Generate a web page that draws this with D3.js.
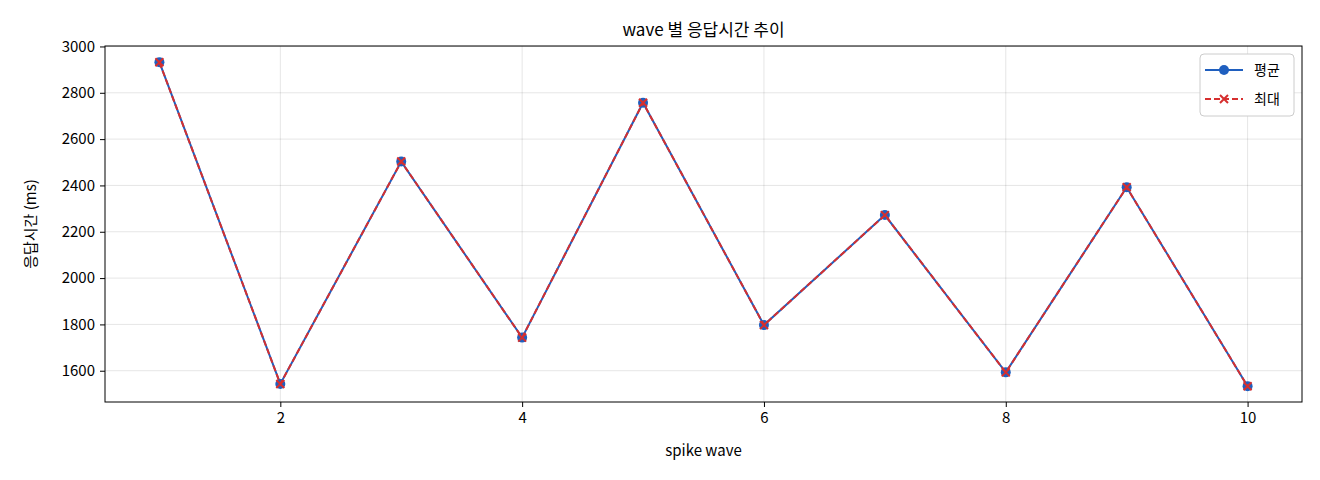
<!DOCTYPE html><html><head><meta charset="utf-8">
<script src="https://cdn.jsdelivr.net/npm/d3@7"></script>
<style>body{margin:0;background:#fff}text{font-family:"Noto Sans CJK KR","DejaVu Sans",sans-serif}</style></head><body>
<svg id="c" width="1320" height="480"></svg>
<script>
const waves=[1,2,3,4,5,6,7,8,9,10];
const avgMs=[2932,1543,2503,1743,2757,1797,2272,1593,2392,1533];
const maxMs=[2932,1543,2503,1743,2757,1797,2272,1593,2392,1533];
const xTicks=[2,4,6,8,10];
const yTicks=[1600,1800,2000,2200,2400,2600,2800,3000];
const svg=d3.select("#c");
const L=105,R=1302,T=46,B=402;
const x=d3.scaleLinear().domain([0.55,10.45]).range([L,R]);
const y=d3.scaleLinear().domain([1465,3002]).range([B,T]);
const g=svg.append("g");
g.selectAll(".gx").data(xTicks).join("line").attr("x1",d=>x(d)).attr("x2",d=>x(d)).attr("y1",T).attr("y2",B).attr("stroke","#000").attr("stroke-opacity",0.1);
g.selectAll(".gy").data(yTicks).join("line").attr("y1",d=>y(d)).attr("y2",d=>y(d)).attr("x1",L).attr("x2",R).attr("stroke","#000").attr("stroke-opacity",0.1);
const ax=svg.append("g").attr("transform",`translate(0,${B})`).call(d3.axisBottom(x).tickValues(xTicks).tickFormat(d3.format("d")).tickSize(5).tickPadding(5));
const ay=svg.append("g").attr("transform",`translate(${L},0)`).call(d3.axisLeft(y).tickValues(yTicks).tickFormat(d3.format("d")).tickSize(5).tickPadding(5));
[ax,ay].forEach(a=>{a.select(".domain").remove();a.selectAll("text").attr("font-size",15).attr("fill","#000");});
svg.append("rect").attr("x",L).attr("y",T).attr("width",R-L).attr("height",B-T).attr("fill","none").attr("stroke","#000");
const line=d3.line().x((d,i)=>x(waves[i])).y(d=>y(d));
svg.append("path").datum(avgMs).attr("d",line).attr("fill","none").attr("stroke","#1f5fbf").attr("stroke-width",2);
svg.selectAll(".pa").data(avgMs).join("circle").attr("cx",(d,i)=>x(waves[i])).attr("cy",d=>y(d)).attr("r",5).attr("fill","#1f5fbf");
svg.append("path").datum(maxMs).attr("d",line).attr("fill","none").attr("stroke","#d62f2f").attr("stroke-width",2).attr("stroke-dasharray","6,3");
const cross=(sel,cx,cy,s)=>{sel.append("path").attr("d",`M${cx-s},${cy-s}L${cx+s},${cy+s}M${cx-s},${cy+s}L${cx+s},${cy-s}`).attr("stroke","#d62f2f").attr("stroke-width",2);};
maxMs.forEach((d,i)=>cross(svg,x(waves[i]),y(d),4));
svg.append("text").attr("x",(L+R)/2).attr("y",36).attr("text-anchor","middle").attr("font-size",17).text("wave 별 응답시간 추이");
svg.append("text").attr("x",(L+R)/2).attr("y",456).attr("text-anchor","middle").attr("font-size",15).text("spike wave");
svg.append("text").attr("transform",`translate(36,${(T+B)/2}) rotate(-90)`).attr("text-anchor","middle").attr("font-size",15).text("응답시간 (ms)");
const lg=svg.append("g");
lg.append("rect").attr("x",1200).attr("y",54).attr("width",94).attr("height",62).attr("rx",4).attr("fill","#fff").attr("stroke","#ccc");
lg.append("line").attr("x1",1205).attr("x2",1243).attr("y1",70).attr("y2",70).attr("stroke","#1f5fbf").attr("stroke-width",2);
lg.append("circle").attr("cx",1224).attr("cy",70).attr("r",5).attr("fill","#1f5fbf");
lg.append("line").attr("x1",1205).attr("x2",1243).attr("y1",99).attr("y2",99).attr("stroke","#d62f2f").attr("stroke-width",2).attr("stroke-dasharray","6,3");
cross(lg,1224,99,4);
lg.append("text").attr("x",1254).attr("y",75).attr("font-size",14).text("평균");
lg.append("text").attr("x",1254).attr("y",104).attr("font-size",14).text("최대");
</script></body></html>
